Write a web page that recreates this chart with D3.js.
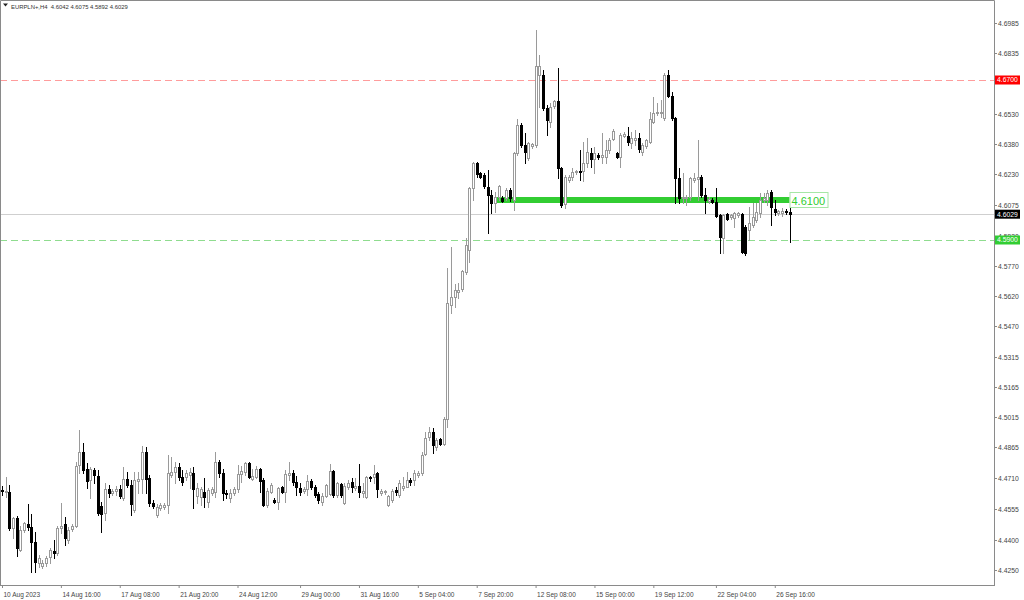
<!DOCTYPE html>
<html><head><meta charset="utf-8">
<script src="https://cdn.jsdelivr.net/npm/d3@7"></script>
<style>html,body{margin:0;padding:0;background:#fff;} svg{display:block;}</style>
</head><body><svg id="c" width="1024" height="600"></svg>
<script>
const symbol = "EURPLN+";
const timeframe = "H4";

const opens = [
4.4650,4.4640,4.4640,4.4460,4.4510,4.4350,4.4450,4.4480,4.4465,4.4390,
4.4285,4.4270,4.4285,4.4315,4.4345,4.4335,4.4460,4.4480,4.4400,4.4455,
4.4470,4.4775,4.4840,4.4755,4.4700,4.4750,4.4720,4.4570,4.4535,4.4655,
4.4635,4.4645,4.4655,4.4610,4.4705,4.4675,4.4550,4.4695,4.4705,4.4840,
4.4710,4.4585,4.4525,4.4560,4.4565,4.4575,4.4725,4.4740,4.4765,4.4715,
4.4715,4.4725,4.4735,4.4620,4.4615,4.4640,4.4590,4.4635,4.4640,4.4790,
4.4735,4.4635,4.4610,4.4635,4.4655,4.4730,4.4740,4.4785,4.4705,4.4715,
4.4755,4.4700,4.4575,4.4640,4.4600,4.4590,4.4665,4.4640,4.4725,4.4735,
4.4690,4.4660,4.4645,4.4655,4.4695,4.4665,4.4630,4.4590,4.4620,4.4630,
4.4745,4.4625,4.4680,4.4585,4.4665,4.4690,4.4660,4.4670,4.4635,4.4615,
4.4715,4.4715,4.4735,4.4635,4.4640,4.4575,4.4600,4.4650,4.4625,4.4660,
4.4665,4.4700,4.4700,4.4725,4.4735,4.4830,4.4915,4.4940,4.4865,4.4905,
4.4880,4.5005,4.5575,4.5615,4.5640,4.5655,4.5740,4.5850,4.6160,4.6285,
4.6235,4.6225,4.6165,4.6125,4.6085,4.6115,4.6110,4.6110,4.6150,4.6100,
4.6335,4.6475,4.6375,4.6310,4.6370,4.6375,4.6725,4.6725,4.6560,4.6490,
4.6570,4.6595,4.6260,4.6080,4.6200,4.6215,4.6240,4.6245,4.6245,4.6285,
4.6335,4.6305,4.6325,4.6315,4.6315,4.6350,4.6405,4.6335,4.6315,4.6420,
4.6420,4.6385,4.6400,4.6410,4.6340,4.6370,4.6390,4.6490,4.6535,4.6535,
4.6510,4.6725,4.6620,4.6510,4.6210,4.6110,4.6110,4.6115,4.6200,4.6205,
4.6215,4.6125,4.6095,4.6100,4.6090,4.6025,4.5910,4.6030,4.6015,4.6010,
4.6025,4.6030,4.5965,4.5950,4.5975,4.6000,4.6035,4.6100,4.6100,4.6140,
4.6055,4.6035,4.6035,4.6045,4.6042];

const highs = [
4.4670,4.4715,4.4675,4.4515,4.4520,4.4470,4.4490,4.4580,4.4530,4.4440,
4.4325,4.4300,4.4320,4.4360,4.4400,4.4470,4.4585,4.4515,4.4465,4.4480,
4.4790,4.4950,4.4885,4.4785,4.4765,4.4760,4.4750,4.4590,4.4685,4.4675,
4.4655,4.4670,4.4675,4.4765,4.4740,4.4700,4.4740,4.4740,4.4870,4.4865,
4.4725,4.4600,4.4580,4.4585,4.4585,4.4825,4.4815,4.4790,4.4785,4.4750,
4.4750,4.4760,4.4765,4.4685,4.4665,4.4710,4.4660,4.4665,4.4840,4.4800,
4.4755,4.4650,4.4655,4.4665,4.4775,4.4770,4.4790,4.4790,4.4755,4.4770,
4.4760,4.4710,4.4660,4.4685,4.4610,4.4665,4.4670,4.4750,4.4790,4.4750,
4.4720,4.4685,4.4665,4.4725,4.4705,4.4675,4.4640,4.4635,4.4680,4.4780,
4.4750,4.4690,4.4685,4.4685,4.4700,4.4710,4.4710,4.4780,4.4685,4.4720,
4.4720,4.4775,4.4740,4.4655,4.4650,4.4625,4.4655,4.4665,4.4700,4.4715,
4.4740,4.4710,4.4750,4.4745,4.4840,4.4940,4.4965,4.4960,4.4910,4.4910,
4.5015,4.5760,4.5865,4.5680,4.5685,4.5750,4.5910,4.6165,4.6290,4.6290,
4.6240,4.6235,4.6250,4.6150,4.6140,4.6175,4.6120,4.6160,4.6160,4.6340,
4.6505,4.6485,4.6435,4.6390,4.6385,4.6950,4.6825,4.6750,4.6575,4.6585,
4.6600,4.6760,4.6265,4.6225,4.6225,4.6260,4.6250,4.6350,4.6390,4.6410,
4.6360,4.6365,4.6335,4.6435,4.6400,4.6410,4.6455,4.6340,4.6435,4.6440,
4.6465,4.6440,4.6450,4.6435,4.6385,4.6405,4.6540,4.6615,4.6585,4.6600,
4.6735,4.6750,4.6640,4.6515,4.6260,4.6235,4.6125,4.6215,4.6235,4.6400,
4.6225,4.6160,4.6115,4.6110,4.6160,4.6030,4.6030,4.6035,4.6030,4.6040,
4.6040,4.6035,4.5975,4.6065,4.6085,4.6085,4.6135,4.6135,4.6150,4.6150,
4.6100,4.6050,4.6060,4.6055,4.6075];

const lows = [
4.4625,4.4615,4.4450,4.4410,4.4320,4.4345,4.4440,4.4450,4.4240,4.4240,
4.4265,4.4260,4.4270,4.4285,4.4310,4.4325,4.4435,4.4375,4.4385,4.4445,
4.4465,4.4735,4.4735,4.4660,4.4610,4.4685,4.4525,4.4440,4.4500,4.4615,
4.4625,4.4625,4.4610,4.4600,4.4665,4.4525,4.4540,4.4635,4.4635,4.4635,
4.4570,4.4560,4.4515,4.4550,4.4555,4.4535,4.4715,4.4685,4.4700,4.4675,
4.4700,4.4660,4.4560,4.4585,4.4575,4.4565,4.4565,4.4625,4.4615,4.4715,
4.4600,4.4610,4.4590,4.4625,4.4640,4.4690,4.4725,4.4710,4.4700,4.4710,
4.4640,4.4570,4.4565,4.4635,4.4585,4.4555,4.4635,4.4590,4.4700,4.4675,
4.4625,4.4625,4.4635,4.4625,4.4655,4.4615,4.4585,4.4575,4.4615,4.4625,
4.4615,4.4615,4.4615,4.4580,4.4655,4.4640,4.4650,4.4615,4.4615,4.4610,
4.4695,4.4685,4.4615,4.4625,4.4630,4.4570,4.4590,4.4625,4.4615,4.4650,
4.4665,4.4675,4.4675,4.4715,4.4725,4.4825,4.4900,4.4835,4.4850,4.4875,
4.4875,4.4965,4.5535,4.5565,4.5610,4.5645,4.5730,4.5790,4.6100,4.6215,
4.6210,4.6160,4.5935,4.6035,4.6040,4.6100,4.6090,4.6100,4.6095,4.6050,
4.6325,4.6365,4.6285,4.6300,4.6360,4.6365,4.6565,4.6550,4.6425,4.6465,
4.6560,4.6210,4.6065,4.6060,4.6190,4.6200,4.6230,4.6200,4.6195,4.6265,
4.6265,4.6235,4.6305,4.6285,4.6285,4.6335,4.6400,4.6310,4.6265,4.6415,
4.6375,4.6360,4.6375,4.6340,4.6325,4.6360,4.6385,4.6485,4.6525,4.6515,
4.6500,4.6615,4.6500,4.6085,4.6085,4.6085,4.6075,4.6100,4.6190,4.6100,
4.6115,4.6035,4.6085,4.6085,4.6015,4.5835,4.5835,4.6000,4.6005,4.5965,
4.6015,4.5835,4.5825,4.5900,4.5965,4.5990,4.6015,4.6090,4.6075,4.5975,
4.6025,4.6025,4.6020,4.6030,4.5892];

const closes = [
4.4645,4.4645,4.4460,4.4510,4.4360,4.4450,4.4485,4.4465,4.4390,4.4290,
4.4310,4.4285,4.4310,4.4350,4.4335,4.4460,4.4470,4.4410,4.4450,4.4470,
4.4770,4.4840,4.4750,4.4695,4.4755,4.4725,4.4535,4.4530,4.4655,4.4635,
4.4645,4.4655,4.4620,4.4705,4.4675,4.4580,4.4700,4.4705,4.4840,4.4705,
4.4585,4.4570,4.4565,4.4575,4.4575,4.4735,4.4740,4.4765,4.4715,4.4690,
4.4735,4.4740,4.4655,4.4660,4.4655,4.4615,4.4650,4.4655,4.4790,4.4735,
4.4635,4.4630,4.4635,4.4655,4.4730,4.4745,4.4785,4.4715,4.4720,4.4755,
4.4695,4.4575,4.4645,4.4675,4.4590,4.4660,4.4640,4.4730,4.4735,4.4690,
4.4665,4.4640,4.4655,4.4695,4.4665,4.4625,4.4600,4.4620,4.4675,4.4745,
4.4625,4.4685,4.4625,4.4670,4.4685,4.4665,4.4670,4.4640,4.4645,4.4715,
4.4710,4.4730,4.4655,4.4645,4.4645,4.4620,4.4645,4.4640,4.4685,4.4670,
4.4700,4.4690,4.4735,4.4735,4.4825,4.4910,4.4940,4.4875,4.4900,4.4880,
4.5005,4.5585,4.5615,4.5650,4.5650,4.5745,4.5875,4.6160,4.6285,4.6230,
4.6215,4.6170,4.6125,4.6085,4.6115,4.6170,4.6095,4.6150,4.6110,4.6335,
4.6475,4.6375,4.6340,4.6385,4.6380,4.6770,4.6770,4.6560,4.6500,4.6565,
4.6595,4.6260,4.6075,4.6215,4.6215,4.6240,4.6245,4.6240,4.6285,4.6340,
4.6305,4.6335,4.6315,4.6325,4.6350,4.6400,4.6445,4.6315,4.6425,4.6430,
4.6390,4.6410,4.6410,4.6355,4.6375,4.6400,4.6505,4.6535,4.6540,4.6540,
4.6725,4.6620,4.6510,4.6210,4.6110,4.6115,4.6115,4.6210,4.6210,4.6215,
4.6125,4.6100,4.6105,4.6090,4.6020,4.5915,4.6025,4.6005,4.6025,4.6035,
4.6035,4.5840,4.5835,4.5985,4.6015,4.6040,4.6100,4.6110,4.6135,4.6065,
4.6040,4.6045,4.6045,4.6040,4.6029];

const timeTickBars = [0,16,32,48,64,81,97,113,129,145,161,177,194,210];
const timeTickLabels = ["10 Aug 2023","14 Aug 16:00","17 Aug 08:00","21 Aug 20:00","24 Aug 12:00","29 Aug 00:00","31 Aug 16:00","5 Sep 04:00","7 Sep 20:00","12 Sep 08:00","15 Sep 00:00","19 Sep 12:00","22 Sep 04:00","26 Sep 16:00"];
const priceTicks = [4.6985,4.6835,4.6685,4.6530,4.6380,4.6230,4.6075,4.5920,4.5770,4.5620,4.5470,4.5315,4.5165,4.5015,4.4865,4.4710,4.4555,4.4400,4.4250];

const levelRed = 4.6700;
const levelGreen = 4.5900;
const zonePrice = 4.6100;
const zoneFromBar = 134;
const zoneToBar = 214;

const W = 1024, H = 600, plotR = 994, plotB = 585;
const font = "'Liberation Sans', Arial, sans-serif";
const svg = d3.select("#c");
svg.append("rect").attr("width", W).attr("height", H).attr("fill", "#fff");

const n = opens.length;
const x = d3.scaleLinear().domain([0, n - 1]).range([2, 789.5]);
const y = d3.scaleLinear().domain([4.4175, 4.7100]).range([plotB, 0]);
const fmt = d3.format(".4f");

// horizontal levels
const hl = svg.append("g");
hl.append("line").attr("x1", 0).attr("x2", plotR).attr("y1", Math.round(y(levelRed)) + 0.5).attr("y2", Math.round(y(levelRed)) + 0.5)
  .attr("stroke", "#ff9c9c").attr("stroke-dasharray", "7,4");
hl.append("line").attr("x1", 0).attr("x2", plotR).attr("y1", Math.round(y(levelGreen)) + 0.5).attr("y2", Math.round(y(levelGreen)) + 0.5)
  .attr("stroke", "#8fdc8f").attr("stroke-dasharray", "7,4");
const lastClose = closes[n - 1];
hl.append("line").attr("x1", 0).attr("x2", plotR).attr("y1", Math.round(y(lastClose)) + 0.5).attr("y2", Math.round(y(lastClose)) + 0.5)
  .attr("stroke", "#cfcfcf");

// green zone line
svg.append("line").attr("x1", x(zoneFromBar)).attr("x2", x(zoneToBar))
  .attr("y1", y(zonePrice)).attr("y2", y(zonePrice))
  .attr("stroke", "#32cd32").attr("stroke-width", 6);

// candles
const candles = svg.append("g");
d3.range(n).forEach(i => {
  const o = opens[i], c = closes[i], h = highs[i], l = lows[i];
  const bull = c >= o;
  const col = bull ? "#9a9a9a" : "#000";
  const px = Math.round(x(i));
  candles.append("line").attr("x1", px + 0.5).attr("x2", px + 0.5)
    .attr("y1", Math.round(y(h))).attr("y2", Math.round(y(l)) + 1)
    .attr("stroke", col);
  const yt = Math.round(y(Math.max(o, c))), yb = Math.round(y(Math.min(o, c)));
  candles.append("rect").attr("x", px - 0.5).attr("y", yt + 0.5)
    .attr("width", 2).attr("height", Math.max(0, yb - yt))
    .attr("fill", bull ? "#fff" : "#000").attr("stroke", col);
});

// zone label
const zx = x(zoneToBar), zy = y(zonePrice);
svg.append("rect").attr("x", zx + 0.5).attr("y", zy - 7.5).attr("width", 38).attr("height", 15)
  .attr("fill", "#fff").attr("stroke", "#a6e6a6");
svg.append("text").attr("x", zx + 2).attr("y", zy + 4.5).attr("font-family", font).attr("font-size", 11)
  .attr("fill", "#32cd32").text(fmt(zonePrice));

// frame
const fr = svg.append("g").attr("stroke", "#8a8a8a").attr("fill", "none");
fr.append("path").attr("d", `M0.5,${plotB + 0.5}V0.5H${plotR + 0.5}`);
fr.append("line").attr("x1", 0).attr("x2", plotR + 1).attr("y1", plotB + 0.5).attr("y2", plotB + 0.5);

// highlighted price labels (a value fully hidden under one gets no tick text)
const marks = [[levelRed, "#ff0000"], [lastClose, "#000000"], [levelGreen, "#32cd32"]];
const hiddenTick = v => marks.some(([m]) => Math.abs(y(m) - y(v)) < 3.5);

// price axis
const ya = svg.append("g").attr("transform", `translate(${plotR},0)`)
  .call(d3.axisRight(y).tickValues(priceTicks).tickFormat(v => hiddenTick(v) ? "" : fmt(v)).tickSize(3).tickSizeOuter(0).tickPadding(1));
ya.select(".domain").attr("stroke", "#8a8a8a");
ya.selectAll(".tick line").attr("stroke", "#8a8a8a");
ya.selectAll("text").attr("font-family", font).attr("font-size", 6.8).attr("fill", "#444");

// time axis
const xa = svg.append("g").attr("transform", `translate(0,${plotB})`)
  .call(d3.axisBottom(x).tickValues(timeTickBars).tickFormat((d, i) => timeTickLabels[i]).tickSize(3).tickPadding(4));
xa.select(".domain").remove();
xa.selectAll(".tick line").attr("stroke", "#8a8a8a");
xa.selectAll("text").attr("text-anchor", "start").attr("x", 1)
  .attr("font-family", font).attr("font-size", 6.5).attr("fill", "#444");

marks.forEach(([v, col]) => {
  const yy = y(v);
  svg.append("rect").attr("x", plotR + 1).attr("y", yy - 4.5).attr("width", 25).attr("height", 9).attr("fill", col);
  svg.append("text").attr("x", plotR + 3).attr("y", yy).attr("dy", "0.34em")
    .attr("font-family", font).attr("font-size", 6.8).attr("fill", "#fff").text(fmt(v));
});

// title
svg.append("path").attr("d", "M3,3.5L8,3.5L5.5,6.5Z").attr("fill", "#222");
svg.append("text").attr("x", 11).attr("y", 8.5).attr("font-family", font).attr("font-size", 5.9).attr("fill", "#333")
  .attr("xml:space", "preserve")
  .text(`${symbol},${timeframe}  ${fmt(opens[n-1])} ${fmt(highs[n-1])} ${fmt(lows[n-1])} ${fmt(lastClose)}`);
</script></body></html>
